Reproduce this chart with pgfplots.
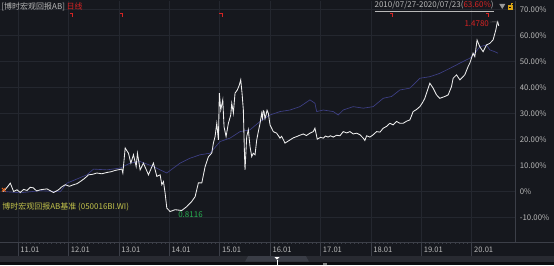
\documentclass[border=0pt]{standalone}
\usepackage{pgfplots}
\usepackage{pgfplotstable}
\pgfplotsset{compat=1.18}
\usepackage{fontspec}
\setmainfont{Noto Sans CJK SC}
\definecolor{bg}{RGB}{22,24,30}
\definecolor{gridc}{RGB}{36,39,47}
\definecolor{axc}{RGB}{60,63,72}
\definecolor{txt}{RGB}{185,185,185}
\definecolor{bench}{RGB}{62,64,135}
\definecolor{fund}{RGB}{238,238,238}
\definecolor{redc}{RGB}{215,35,35}
\definecolor{greenc}{RGB}{40,175,80}
\definecolor{olive}{RGB}{195,195,75}
\definecolor{lockc}{RGB}{220,165,20}
\definecolor{orangec}{RGB}{235,105,30}
\definecolor{scrollc}{RGB}{40,42,49}
\definecolor{thumbc}{RGB}{58,61,70}
\definecolor{darkc}{RGB}{12,13,16}
\pgfdeclareplotmark{divmark}{%
  \pgfpathmoveto{\pgfpoint{-1.6pt}{2pt}}%
  \pgfpathlineto{\pgfpoint{1pt}{2pt}}%
  \pgfpathlineto{\pgfpoint{1pt}{-2pt}}%
  \pgfusepathqstroke}
\pgfplotstableread{
yr pct
2010.710 0.0
2010.780 1.5
2010.847 3.2
2010.913 0.0
2010.980 0.65
2011.045 -0.4
2011.110 0.8
2011.178 0.4
2011.240 1.6
2011.303 1.4
2011.370 0.2
2011.442 0.65
2011.574 1.0
2011.640 0.3
2011.705 -0.4
2011.804 0.65
2011.870 1.8
2011.937 2.6
2012.020 2.0
2012.101 2.6
2012.170 3.0
2012.234 3.8
2012.320 5.0
2012.399 6.4
2012.480 6.6
2012.565 7.1
2012.660 6.8
2012.763 7.3
2012.850 7.6
2012.928 8.1
2013.060 8.6
2013.080 7.1
2013.126 16.7
2013.191 14.7
2013.239 10.9
2013.290 14.1
2013.344 9.6
2013.369 14.7
2013.423 8.3
2013.488 10.9
2013.588 6.4
2013.686 10.9
2013.754 5.8
2013.819 6.4
2013.853 2.6
2013.885 3.8
2013.918 -0.6
2013.952 -6.4
2014.017 -7.7
2014.116 -7.0
2014.249 -7.3
2014.348 -5.8
2014.447 -3.8
2014.513 -2.0
2014.578 3.3
2014.646 3.3
2014.711 9.5
2014.776 13.3
2014.844 14.8
2014.876 18.6
2014.909 21.1
2014.943 26.2
2014.975 19.8
2014.994 37.8
2015.022 31.3
2015.062 35.2
2015.087 24.9
2015.127 21.1
2015.173 26.2
2015.220 29.4
2015.240 33.9
2015.272 30.1
2015.305 37.8
2015.351 39.0
2015.390 40.9
2015.418 42.9
2015.444 37.8
2015.470 31.3
2015.490 16.0
2015.503 8.3
2015.537 21.1
2015.569 23.7
2015.602 17.3
2015.636 13.4
2015.668 14.7
2015.702 14.1
2015.735 19.8
2015.767 23.0
2015.801 26.2
2015.834 30.1
2015.850 28.2
2015.865 31.0
2015.880 30.7
2015.900 28.0
2015.920 29.4
2015.940 31.2
2015.965 30.1
2015.999 25.6
2016.064 23.0
2016.131 22.4
2016.197 20.5
2016.230 21.2
2016.296 18.6
2016.395 19.8
2016.460 20.6
2016.528 21.1
2016.590 21.6
2016.659 22.1
2016.720 21.5
2016.791 22.4
2016.857 23.0
2016.890 24.3
2016.936 20.1
2017.000 20.8
2017.055 20.5
2017.100 21.3
2017.150 20.9
2017.200 21.4
2017.253 20.9
2017.320 21.6
2017.386 21.4
2017.451 23.0
2017.520 22.5
2017.584 23.0
2017.650 22.1
2017.717 22.4
2017.782 21.8
2017.848 20.5
2017.880 19.6
2017.915 21.4
2017.980 20.9
2018.046 21.8
2018.113 23.0
2018.180 22.8
2018.243 24.3
2018.310 25.0
2018.376 26.2
2018.440 25.6
2018.509 26.9
2018.575 26.2
2018.640 26.2
2018.707 27.0
2018.773 27.5
2018.838 30.7
2018.905 31.5
2018.971 32.6
2019.020 34.0
2019.070 35.8
2019.136 39.7
2019.169 41.6
2019.235 39.7
2019.302 37.1
2019.367 35.8
2019.466 36.5
2019.532 37.1
2019.599 40.3
2019.631 43.5
2019.698 44.8
2019.764 42.9
2019.862 44.8
2019.928 48.0
2019.962 49.3
2020.027 53.1
2020.061 51.8
2020.106 58.2
2020.160 55.6
2020.225 53.7
2020.293 56.3
2020.358 56.9
2020.423 58.2
2020.477 62.0
2020.503 64.6
2020.516 65.2
2020.536 63.6
}\fundtable
\pgfplotstableread{
yr pct
2010.710 0.0
2011.045 -0.5
2011.442 0.3
2011.838 -0.1
2011.971 3.2
2012.367 6.4
2012.498 8.6
2012.763 8.3
2013.027 9.0
2013.225 10.9
2013.423 11.5
2013.686 9.6
2013.819 8.3
2013.952 7.1
2014.083 9.0
2014.216 10.9
2014.414 12.8
2014.612 14.1
2014.810 14.7
2015.008 19.2
2015.206 20.5
2015.404 23.0
2015.602 23.7
2015.801 26.9
2015.999 29.4
2016.197 30.7
2016.395 31.3
2016.593 32.6
2016.791 35.2
2016.890 33.9
2016.924 30.7
2017.055 31.3
2017.253 30.7
2017.352 29.4
2017.451 31.3
2017.649 32.6
2017.848 32.0
2018.046 32.6
2018.244 35.8
2018.410 36.5
2018.575 39.0
2018.773 39.7
2018.971 43.5
2019.169 44.1
2019.367 45.4
2019.565 47.3
2019.764 49.3
2019.962 51.2
2020.061 53.1
2020.160 55.6
2020.293 56.3
2020.358 54.4
2020.457 53.7
2020.523 53.1
}\benchtable
\pgfplotstableread{
yr pct
2012.056 67.8
2013.047 67.8
2015.028 67.8
2018.406 67.8
2020.318 67.8
}\divtable
\begin{document}
\begin{tikzpicture}
\fill[bg] (0,0) rectangle (554pt,-265pt);
\begin{axis}[
  at={(0pt,-1pt)}, anchor=north west,
  scale only axis, width=516pt, height=241.5pt,
  xmin=2010.649, xmax=2020.873, ymin=-19.5, ymax=73.18,
  axis line style={draw=none},
  xtick={2011,2012,2013,2014,2015,2016,2017,2018,2019,2020},
  xticklabels={11.01,12.01,13.01,14.01,15.01,16.01,17.01,18.01,19.01,20.01},
  ytick={-10,0,10,20,30,40,50,60,70},
  yticklabels={-10.00\%,0\%,10.00\%,20.00\%,30.00\%,40.00\%,50.00\%,60.00\%,70.00\%},
  yticklabel pos=right,
  ytick pos=right,
  xtick pos=bottom,
  tick align=outside,
  major tick length=14pt,
  minor x tick num=11,
  minor tick length=2pt,
  xtick style={axc, line width=0.6pt},
  ytick style={draw=none},
  grid=major, major grid style={gridc, line width=0.6pt},
  minor grid style={draw=none},
  /pgf/number format/assume math mode=true,
  yticklabel style={anchor=west, inner sep=0pt, xshift=-10pt, text=txt, font=\fontsize{7.8}{9}\selectfont},
  xticklabel style={anchor=north west, inner sep=0pt, xshift=2.3pt, yshift=9.5pt, text=txt, font=\fontsize{7.6}{9}\selectfont},
  clip=false,
]
\addplot[bench, line width=0.65pt] table[x=yr,y=pct] {\benchtable};
\addplot[fund, line width=0.85pt] table[x=yr,y=pct] {\fundtable};
\addplot[only marks, mark=divmark, redc, line width=0.6pt] table[x=yr,y=pct] {\divtable};
\addplot[only marks, mark=x, mark size=2.6pt, orangec, line width=0.9pt] coordinates {(2010.718,0.65)};
\draw[axc, line width=0.6pt] (rel axis cs:1,0) -- (rel axis cs:1,1);
\node[anchor=east, text=redc, inner sep=0pt, font=\fontsize{8}{9}\selectfont] at (axis cs:2020.345,64.3) {1.4780};
\draw[gray, line width=0.4pt] (axis cs:2020.358,65.1) -- (axis cs:2020.50,65.2) -- (axis cs:2020.50,64.5);
\node[anchor=west, text=greenc, inner sep=0pt, font=\fontsize{8}{9}\selectfont] at (axis cs:2014.176,-8.75) {0.8116};
\node[anchor=west, text=olive, inner sep=0pt, font=\fontsize{8}{9}\selectfont] at (axis cs:2010.685,-5.8) {博时宏观回报AB基准 (050016BI.WI)};
\end{axis}
\draw[axc, line width=0.6pt] (0,-242.5pt) -- (554pt,-242.5pt);
% header
\node[anchor=west, inner sep=0pt, text=txt, font=\fontsize{8}{9}\selectfont] at (1pt,-6.5pt) {[博时宏观回报AB] \textcolor{redc}{日线}};
\node[anchor=east, inner sep=0pt, text=txt, font=\fontsize{8}{9}\selectfont] at (494pt,-6.5pt) {\underline{2010/07/27-2020/07/23(\textcolor{redc}{63.60\%})}};
\fill[gray!80] (499.5pt,-4pt) -- (505.5pt,-4pt) -- (502.5pt,-9pt) -- cycle;
\fill[lockc] (508pt,-5pt) rectangle (513pt,-10pt);
\draw[lockc, line width=0.5pt] (511pt,-5pt) -- (511pt,-3pt) -- (513pt,-3pt);
\fill[bg!50!black] (509.5pt,-6.8pt) rectangle (511.5pt,-8.2pt);
% scrollbar
\fill[darkc] (0,-262pt) rectangle (554pt,-265pt);
\fill[scrollc] (0,-256.5pt) rectangle (554pt,-262pt);
\fill[thumbc] (248pt,-256.5pt) -- (306pt,-256.5pt) -- (309pt,-262pt) -- (245pt,-262pt) -- cycle;
\fill[white] (274.5pt,-257.3pt) -- (279.5pt,-257.3pt) -- (277pt,-260pt) -- cycle;
\draw[white, line width=0.6pt] (277pt,-260pt) -- (277pt,-265pt);
\fill[gray] (323pt,-263pt) rectangle (327pt,-265pt);
\end{tikzpicture}
\end{document}
